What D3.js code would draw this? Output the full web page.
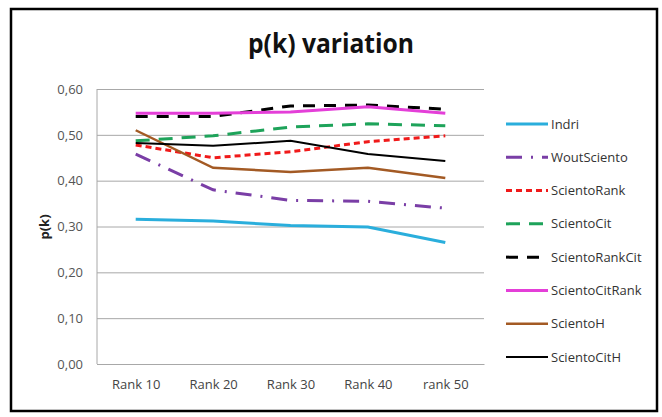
<!DOCTYPE html>
<html><head><meta charset="utf-8">
<script src="https://cdn.jsdelivr.net/npm/d3@7"></script>
<style>body{margin:0;background:#fff}svg{display:block}</style>
</head><body>
<script>
const categories = ["Rank 10","Rank 20","Rank 30","Rank 40","rank 50"];
const seriesNames = ["Indri","WoutSciento","ScientoRank","ScientoCit","ScientoRankCit","ScientoCitRank","ScientoH","ScientoCitH"];
const indri = [0.316,0.312,0.302,0.299,0.265];
const woutSciento = [0.458,0.38,0.357,0.355,0.34];
const scientoRank = [0.478,0.45,0.463,0.485,0.498];
const scientoCit = [0.487,0.498,0.517,0.524,0.52];
const scientoRankCit = [0.54,0.54,0.563,0.565,0.556];
const scientoCitRank = [0.547,0.547,0.55,0.561,0.547];
const scientoH = [0.51,0.428,0.419,0.428,0.406];
const scientoCitH = [0.482,0.476,0.487,0.458,0.443];
const yTicks = [0,0.1,0.2,0.3,0.4,0.5,0.6];

const values = [indri,woutSciento,scientoRank,scientoCit,scientoRankCit,scientoCitRank,scientoH,scientoCitH];
const styles = [
  {c:"#2aaedc",w:3,d:null},
  {c:"#7a3ea6",w:3,d:"16,9,2,9"},
  {c:"#f01a1a",w:3,d:"6,4"},
  {c:"#1ea35a",w:3,d:"14,9"},
  {c:"#000000",w:3,d:"12,9"},
  {c:"#e43fd8",w:3,d:null},
  {c:"#a35a24",w:2.5,d:null},
  {c:"#000000",w:2,d:null}
];

const W=662,H=417;
const svg=d3.select("body").append("svg").attr("width",W).attr("height",H);
svg.append("rect").attr("x",11).attr("y",9).attr("width",646).attr("height",402)
  .attr("fill","#fff").attr("stroke","#000").attr("stroke-width",2.5);

const pLeft=97,pRight=484,pTop=89,pBottom=364;
const x=d3.scalePoint().domain(categories).range([pLeft,pRight]).padding(0.5);
const y=d3.scaleLinear().domain([0,0.6]).range([pBottom,pTop]);

svg.append("text").attr("x",331).attr("y",53).attr("text-anchor","middle")
  .attr("font-family","Open Sans, sans-serif").attr("font-weight","bold")
  .attr("font-size",26).attr("textLength",166).attr("lengthAdjust","spacingAndGlyphs")
  .attr("fill","#111").text("p(k) variation");

const yAxis=svg.append("g").attr("transform",`translate(${pLeft},0)`)
  .call(d3.axisLeft(y).tickValues(yTicks).tickSize(-(pRight-pLeft)).tickFormat(d=>d3.format(".2f")(d).replace(".",",")));
yAxis.select(".domain").remove();
yAxis.selectAll(".tick line").attr("stroke","#a8a8a8").attr("stroke-width",1);
yAxis.selectAll(".tick text").attr("x",-14).attr("fill","#555").attr("font-size",13)
  .attr("font-family","Open Sans, sans-serif");
svg.append("line").attr("x1",pLeft).attr("x2",pLeft).attr("y1",pTop).attr("y2",pBottom).attr("stroke","#a8a8a8");

const xAxis=svg.append("g").attr("transform",`translate(0,${pBottom})`)
  .call(d3.axisBottom(x).tickSize(0));
xAxis.select(".domain").attr("stroke","#a8a8a8");
xAxis.selectAll(".tick text").attr("dy",22).attr("fill","#444").attr("font-size",13)
  .attr("font-family","Open Sans, sans-serif");

svg.append("text").attr("transform","translate(49,227) rotate(-90)").attr("text-anchor","middle")
  .attr("font-family","Open Sans, sans-serif").attr("font-weight","bold").attr("font-size",13)
  .attr("fill","#222").text("p(k)");

const line=d3.line().x((d,i)=>x(categories[i])).y(d=>y(d));
values.forEach((v,i)=>{
  const s=styles[i];
  svg.append("path").datum(v).attr("d",line).attr("fill","none")
    .attr("stroke",s.c).attr("stroke-width",s.w).attr("stroke-dasharray",s.d);
});

const legY=d3.scalePoint().domain(seriesNames).range([124,357]);
seriesNames.forEach((n,i)=>{
  const s=styles[i], yy=legY(n);
  svg.append("line").attr("x1",506).attr("x2",548).attr("y1",yy).attr("y2",yy)
    .attr("stroke",s.c).attr("stroke-width",s.w).attr("stroke-dasharray",s.d);
  svg.append("text").attr("x",551).attr("y",yy).attr("dy","0.35em")
    .attr("font-family","Open Sans, sans-serif").attr("font-size",13).attr("fill","#333").text(n);
});
</script>
</body></html>
